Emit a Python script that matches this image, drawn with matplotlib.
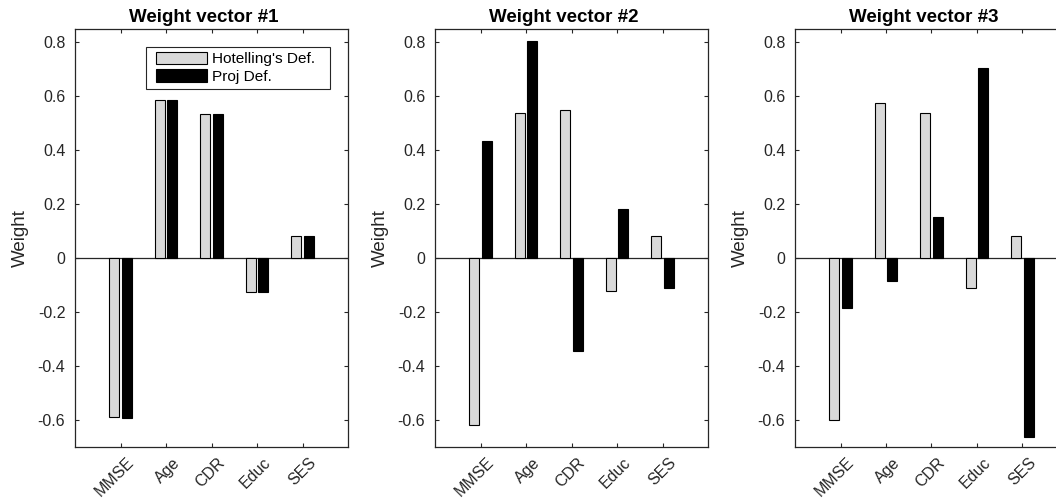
import matplotlib
matplotlib.use("Agg")
import matplotlib.pyplot as plt
import matplotlib.transforms as mtrans
from matplotlib.patches import Rectangle
import numpy as np

plt.rcParams['font.family'] = ['Liberation Sans', 'DejaVu Sans']

categories = ["MMSE", "Age", "CDR", "Educ", "SES"]
titles = ["Weight vector #1", "Weight vector #2", "Weight vector #3"]
series_names = ["Hotelling's Def.", "Proj Def."]

hotelling_1 = [-0.591, 0.588, 0.533, -0.126, 0.080]
proj_1 = [-0.593, 0.588, 0.533, -0.126, 0.080]
hotelling_2 = [-0.622, 0.539, 0.549, -0.123, 0.080]
proj_2 = [0.433, 0.805, -0.346, 0.183, -0.111]
hotelling_3 = [-0.603, 0.575, 0.537, -0.110, 0.080]
proj_3 = [-0.187, -0.086, 0.153, 0.705, -0.665]

hotelling = [hotelling_1, hotelling_2, hotelling_3]
proj = [proj_1, proj_2, proj_3]

W, H = 1056, 499
fig = plt.figure(figsize=(W / 100, H / 100), dpi=100)

dark = '#262626'
lefts = [75, 435, 795]
ax_w, top, bot = 273, 29, 446.5

x = np.arange(1, len(categories) + 1)
for i in range(3):
    ax = fig.add_axes([lefts[i] / W, (H - bot) / H, ax_w / W, (bot - top) / H])
    ax.axhline(0, color=dark, lw=0.9, zorder=1)
    ax.bar(x - 0.135, hotelling[i], width=0.22, color='#d9d9d9',
           edgecolor='black', linewidth=0.8, zorder=2, label=series_names[0])
    ax.bar(x + 0.135, proj[i], width=0.22, color='black',
           edgecolor='black', linewidth=0.8, zorder=2, label=series_names[1])
    ax.set_xlim(0, 6)
    ax.set_ylim(-0.7, 0.85)
    ax.set_xticks(x)
    ax.set_xticklabels(categories, rotation=45, ha='right', rotation_mode='anchor',
                       fontsize=11.5, color=dark)
    ax.set_yticks([-0.6, -0.4, -0.2, 0, 0.2, 0.4, 0.6, 0.8])
    ax.set_yticklabels(['-0.6', '-0.4', '-0.2', '0', '0.2', '0.4', '0.6', '0.8'],
                       fontsize=11.5, color=dark)
    ax.tick_params(direction='in', length=3, top=True, right=True,
                   color=dark, width=0.8)
    ax.tick_params(axis='y', pad=7)
    ax.tick_params(axis='x', pad=6)
    offset = mtrans.ScaledTranslation(0.06, 0.0, fig.dpi_scale_trans)
    for lab in ax.get_xticklabels():
        lab.set_transform(lab.get_transform() + offset)
    for s in ax.spines.values():
        s.set_color(dark)
        s.set_linewidth(0.9)
    ax.set_ylabel('Weight', fontsize=13.5, color=dark, labelpad=6)
    ax.set_title(titles[i], fontsize=13.5, fontweight='bold', pad=5, x=0.4725)
    if i == 0:
        ax.add_patch(Rectangle((0.2606, 0.8556), 0.6725, 0.102,
                               transform=ax.transAxes, facecolor='white',
                               edgecolor=dark, linewidth=0.8, zorder=5))
        leg = ax.legend(loc='upper left', bbox_to_anchor=(0.296, 0.9456),
                        fontsize=11.1, frameon=False,
                        handlelength=3.3, handleheight=0.88,
                        borderpad=0, labelspacing=0.18, handletextpad=0.37,
                        borderaxespad=0)
        leg.set_zorder(6)

fig.savefig('out.png', dpi=100)
